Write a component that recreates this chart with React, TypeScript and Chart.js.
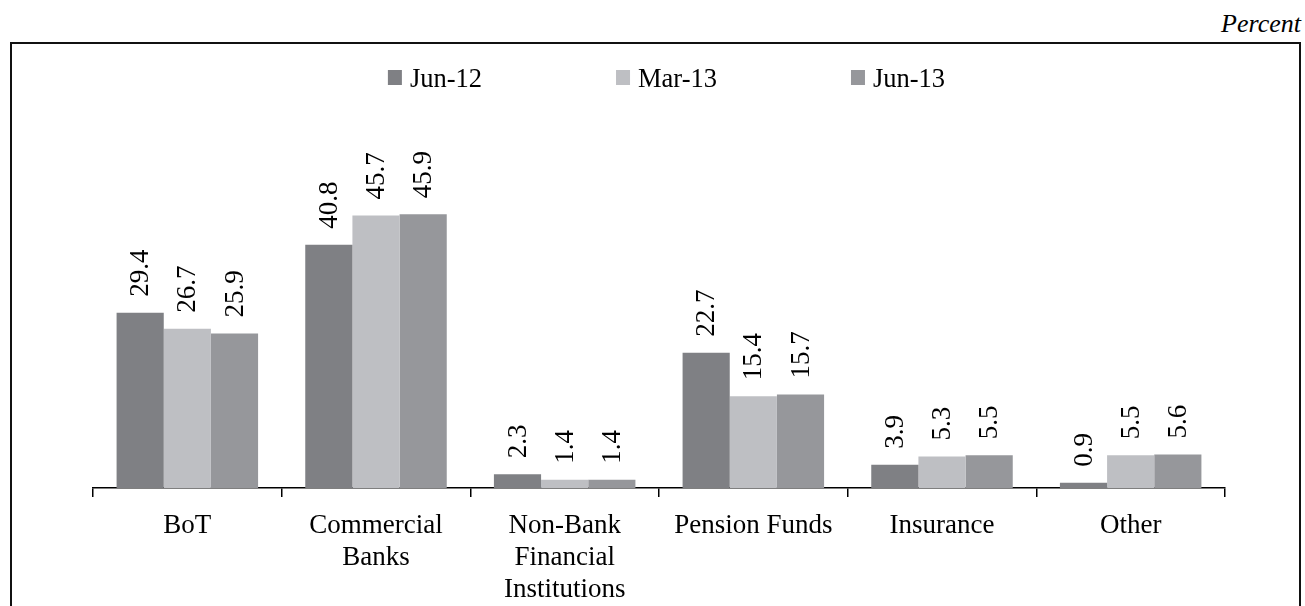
import React, { useEffect, useRef } from "react";
import { Chart, registerables } from "chart.js";

Chart.register(...registerables);

const categories: string[][] = [
  ["BoT"],
  ["Commercial", "Banks"],
  ["Non-Bank", "Financial", "Institutions"],
  ["Pension Funds"],
  ["Insurance"],
  ["Other"],
];
const seriesNames = ["Jun-12", "Mar-13", "Jun-13"];
const jun12 = [29.4, 40.8, 2.3, 22.7, 3.9, 0.9];
const mar13 = [26.7, 45.7, 1.4, 15.4, 5.3, 5.5];
const jun13 = [25.9, 45.9, 1.4, 15.7, 5.5, 5.6];
const seriesColors = ["#7f8084", "#bebfc3", "#96979b"];
const unitLabel = "Percent";

const FONT = "'Liberation Serif', 'Times New Roman', serif";

const valueLabels = {
  id: "valueLabels",
  afterDatasetsDraw(chart: any) {
    const ctx = chart.ctx;
    ctx.save();
    ctx.font = `27px ${FONT}`;
    ctx.fillStyle = "#000";
    chart.data.datasets.forEach((ds: any, di: number) => {
      const meta = chart.getDatasetMeta(di);
      meta.data.forEach((el: any, i: number) => {
        const v = ds.data[i];
        ctx.save();
        ctx.translate(el.x + 1, el.y - 16);
        ctx.rotate(-Math.PI / 2);
        ctx.textAlign = "left";
        ctx.textBaseline = "middle";
        ctx.fillText(v.toFixed(1), 0, 0);
        ctx.restore();
      });
    });
    ctx.restore();
  },
};

const customLegend = {
  id: "customLegend",
  afterDraw(chart: any) {
    const ctx = chart.ctx;
    ctx.save();
    ctx.font = `26.5px ${FONT}`;
    const box = 14;
    const gap = 8;
    const itemGap = 134;
    const items = chart.data.datasets.map((ds: any) => ({
      text: ds.label,
      color: ds.backgroundColor,
      w: box + gap + ctx.measureText(ds.label).width,
    }));
    const total =
      items.reduce((s: number, it: any) => s + it.w, 0) + itemGap * (items.length - 1);
    let x = chart.width / 2 + 11 - total / 2;
    const baseline = 42.7;
    items.forEach((it: any) => {
      ctx.fillStyle = it.color;
      ctx.fillRect(x, 26, box, 15);
      ctx.fillStyle = "#000";
      ctx.textAlign = "left";
      ctx.textBaseline = "alphabetic";
      ctx.fillText(it.text, x + box + gap, baseline);
      x += it.w + itemGap;
    });
    ctx.restore();
  },
};

export default function App() {
  const ref = useRef<HTMLCanvasElement | null>(null);

  useEffect(() => {
    if (!ref.current) return;
    const chart = new Chart(ref.current, {
      type: "bar",
      data: {
        labels: categories,
        datasets: [jun12, mar13, jun13].map((d, i) => ({
          label: seriesNames[i],
          data: d,
          backgroundColor: seriesColors[i],
          borderWidth: 0,
          barPercentage: 1,
          categoryPercentage: 0.75,
        })),
      },
      options: {
        responsive: false,
        animation: false,
        layout: { padding: { top: 86.2, left: 81, right: 74, bottom: 0 } },
        plugins: {
          legend: { display: false },
          tooltip: { enabled: false },
        },
        scales: {
          x: {
            afterFit: (scale: any) => {
              scale.height = 118;
            },
            grid: {
              display: true,
              drawOnChartArea: false,
              offset: true,
              tickLength: 9,
              color: "#000",
              lineWidth: 1.5,
            },
            border: { display: true, color: "#000", width: 1.5 },
            ticks: {
              color: "#000",
              font: { family: FONT, size: 27, lineHeight: 1.185 },
              padding: 13,
              maxRotation: 0,
              autoSkip: false,
            },
          },
          y: {
            display: false,
            min: 0,
            max: 60,
          },
        },
      },
      plugins: [valueLabels, customLegend],
    });
    return () => chart.destroy();
  }, []);

  return (
    <div
      style={{
        position: "absolute",
        left: 0,
        top: 0,
        width: 1305,
        height: 606,
        overflow: "hidden",
        background: "#fff",
      }}
    >
      <div
        style={{
          position: "absolute",
          right: 4,
          top: 11,
          fontFamily: FONT,
          fontStyle: "italic",
          fontSize: 26,
          lineHeight: "26px",
          color: "#000",
        }}
      >
        {unitLabel}
      </div>
      <div
        style={{
          position: "absolute",
          left: 10,
          top: 42,
          width: 1287,
          height: 580,
          border: "2px solid #111",
        }}
      >
        <canvas
          ref={ref}
          width={1287}
          height={562}
          style={{ display: "block", width: 1287, height: 562 }}
        />
      </div>
    </div>
  );
}
